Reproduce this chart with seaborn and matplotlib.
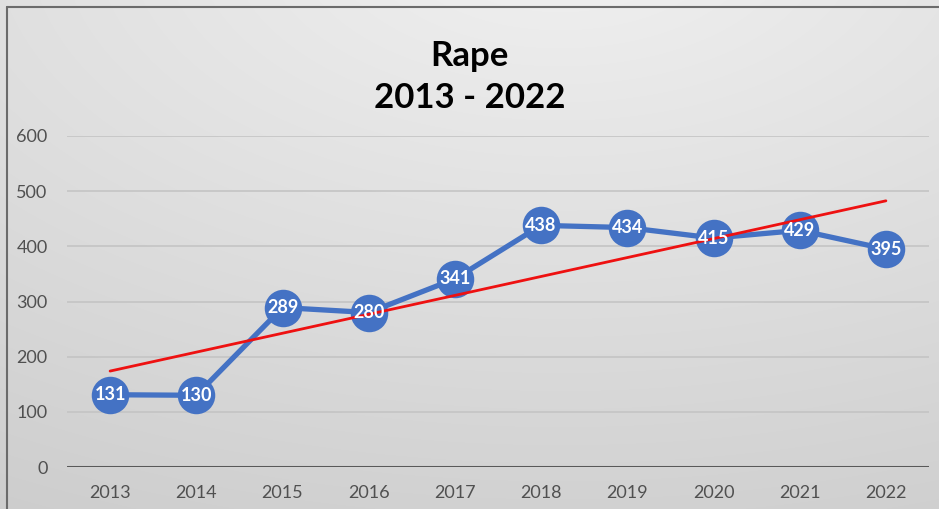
import numpy as np
import matplotlib
matplotlib.use("Agg")
import matplotlib.pyplot as plt
import seaborn as sns
import pandas as pd

years = [2013, 2014, 2015, 2016, 2017, 2018, 2019, 2020, 2021, 2022]
counts = [131, 130, 289, 280, 341, 438, 434, 415, 429, 395]
yticks = [0, 100, 200, 300, 400, 500, 600]
title = "Rape\n2013 - 2022"

sns.set_theme(style="white")
plt.rcParams['font.family'] = ['Lato', 'DejaVu Sans']

fig = plt.figure(figsize=(9.39, 5.09), dpi=100)

# background gradient
bg = fig.add_axes([0, 0, 1, 1], zorder=0)
H, W = 509, 939
yy, xx = np.mgrid[0:H, 0:W]
cx, cy = 560, -60
d = np.sqrt(((xx - cx) / W) ** 2 + ((yy - cy) / H) ** 2)
d = d / d.max()
val = 0.945 - 0.14 * d
img = np.dstack([val, val, val])
bg.imshow(img, aspect='auto', extent=[0, 1, 0, 1], origin='upper')
bg.set_xlim(0, 1); bg.set_ylim(0, 1)
bg.axis('off')
# border lines left and top
bg.plot([7 / W, 7 / W], [0, 1 - 7 / H], color='#6b6b6b', lw=1.5)
bg.plot([7 / W, 1], [1 - 7 / H, 1 - 7 / H], color='#6b6b6b', lw=1.5)

ax = fig.add_axes([67 / W, 42 / H, (929 - 67) / W, (467 - 136) / H], zorder=1)
ax.patch.set_alpha(0)

df = pd.DataFrame({"year": years, "count": counts})

ax.set_ylim(0, 600)
ax.set_xlim(2012.5, 2022.5)
for t in yticks[1:]:
    ax.axhline(t, color='#c4c4c4', lw=1.2, zorder=1)
ax.axhline(0, color='#595959', lw=2.2, zorder=2)

sns.lineplot(data=df, x="year", y="count", ax=ax, color='#4472C4', lw=3.8,
             marker='o', markersize=27, markeredgewidth=0, zorder=3)

coef = np.polyfit(np.arange(len(years)), counts, 1)
trend = np.polyval(coef, np.arange(len(years)))
sns.lineplot(x=years, y=trend, ax=ax, color='#ee1111', lw=2, zorder=4)

for x, y in zip(years, counts):
    ax.text(x, y, str(y), ha='center', va='center', color='white',
            fontsize=13, fontweight='bold', zorder=5)

for s in ax.spines.values():
    s.set_visible(False)
ax.set_xticks(years)
ax.set_xticklabels([str(y) for y in years], fontsize=13, color='#505050')
ax.set_yticks(yticks)
ax.set_yticklabels([str(t) for t in yticks], fontsize=13, color='#505050')
ax.tick_params(axis='x', length=0, pad=13)
ax.tick_params(axis='y', length=0, pad=14)
ax.set_xlabel("")
ax.set_ylabel("")

fig.text(0.5, 1 - 77 / H, title, ha='center', va='center', fontsize=25,
         fontweight='bold', color='#000000', linespacing=1.42)

fig.savefig("out.png", dpi=100)
